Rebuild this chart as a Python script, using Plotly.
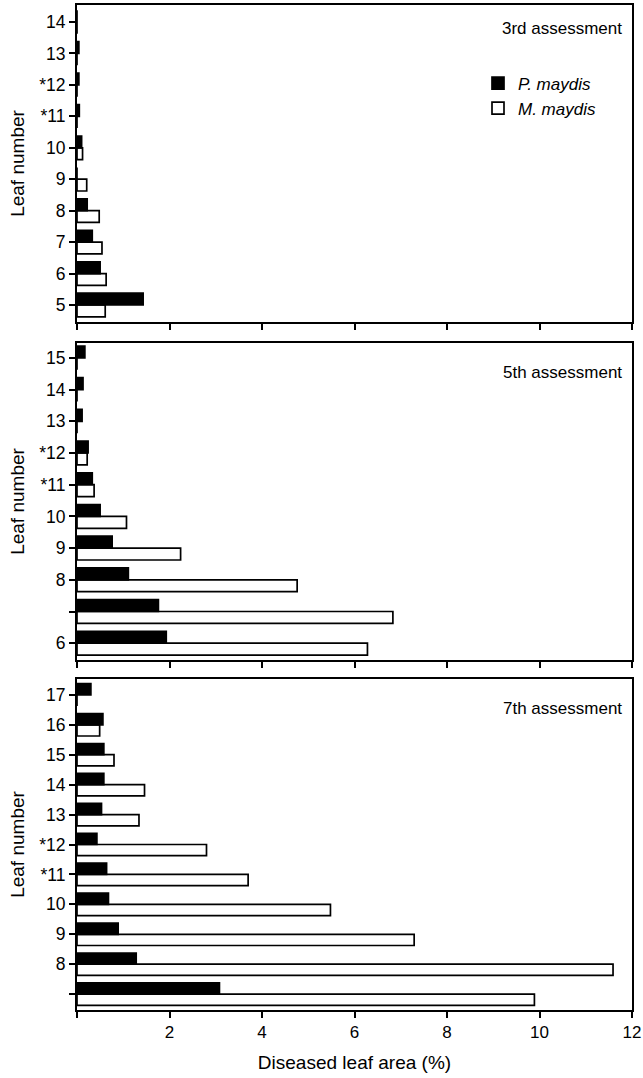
import plotly.graph_objects as go

# Diseased leaf area (%) per leaf, for three assessment dates
leaf_3rd = [5, 6, 7, 8, 9, 10, 11, 12, 13, 14]
leaf_3rd_labels = ["5", "6", "7", "8", "9", "10", "*11", "*12", "13", "14"]
pmaydis_3rd = [1.43, 0.50, 0.33, 0.22, 0.0, 0.10, 0.05, 0.04, 0.04, 0.0]
mmaydis_3rd = [0.61, 0.63, 0.54, 0.48, 0.21, 0.12, 0.0, 0.0, 0.0, 0.0]

leaf_5th = [6, 7, 8, 9, 10, 11, 12, 13, 14, 15]
leaf_5th_labels = ["6", "", "8", "9", "10", "*11", "*12", "13", "14", "15"]
pmaydis_5th = [1.93, 1.76, 1.11, 0.76, 0.50, 0.33, 0.24, 0.11, 0.13, 0.17]
mmaydis_5th = [6.28, 6.83, 4.76, 2.24, 1.07, 0.37, 0.22, 0.0, 0.0, 0.0]

leaf_7th = [7, 8, 9, 10, 11, 12, 13, 14, 15, 16, 17]
leaf_7th_labels = ["", "8", "9", "10", "*11", "*12", "13", "14", "15", "16", "17"]
pmaydis_7th = [3.08, 1.28, 0.89, 0.68, 0.64, 0.43, 0.53, 0.58, 0.58, 0.56, 0.30]
mmaydis_7th = [9.89, 11.59, 7.29, 5.48, 3.70, 2.80, 1.34, 1.46, 0.80, 0.49, 0.0]

x_ticks = [0, 2, 4, 6, 8, 10, 12]
x_tick_labels = ["", "2", "4", "6", "8", "10", "12"]
panel_titles = ["3rd assessment", "5th assessment", "7th assessment"]

W, H = 643, 1078
FONT = "Liberation Sans, Arial, Helvetica, sans-serif"

# panel boxes in pixels: (top, bottom), and the title's distance below the top
panels = [(5, 322), (343, 660), (679, 1010)]
title_drop = [23, 30, 29]
x_left, x_right = 77, 632


def ydom(top, bottom):
    return [1 - bottom / H, 1 - top / H]


fig = go.Figure()

data = [
    (leaf_3rd, leaf_3rd_labels, pmaydis_3rd, mmaydis_3rd),
    (leaf_5th, leaf_5th_labels, pmaydis_5th, mmaydis_5th),
    (leaf_7th, leaf_7th_labels, pmaydis_7th, mmaydis_7th),
]

for i, (leaf, labels, pm, mm) in enumerate(data):
    xa = "x" if i == 0 else f"x{i + 1}"
    ya = "y" if i == 0 else f"y{i + 1}"
    # first trace sits lower in each group, so the open bar goes first
    fig.add_trace(go.Bar(
        y=leaf, x=mm, orientation="h", xaxis=xa, yaxis=ya,
        name="<i>M. maydis</i>", legendrank=2, showlegend=(i == 0),
        marker=dict(color="white", line=dict(color="black", width=1.7)),
    ))
    fig.add_trace(go.Bar(
        y=leaf, x=pm, orientation="h", xaxis=xa, yaxis=ya,
        name="<i>P. maydis</i>", legendrank=1, showlegend=(i == 0),
        marker=dict(color="black", line=dict(color="black", width=1.7)),
    ))

axis_common = dict(
    showline=True, linecolor="black", linewidth=2, mirror=True,
    showgrid=False, zeroline=False, ticks="outside", tickcolor="black",
    tickwidth=1.5, ticklen=6, automargin=False,
)

ranges = [[4.46, 14.54], [5.47, 15.47], [6.47, 17.53]]
layout = dict(
    width=W, height=H,
    margin=dict(l=0, r=0, t=0, b=0, autoexpand=False),
    paper_bgcolor="white", plot_bgcolor="white",
    barmode="group", bargap=0.25, bargroupgap=0.0,
    font=dict(family=FONT, color="black"),
    showlegend=True,
    legend=dict(
        x=478 / W, y=1 - 96 / H, xanchor="left", yanchor="middle",
        bgcolor="rgba(0,0,0,0)", font=dict(size=17, family=FONT),
        itemwidth=30, tracegroupgap=0,
    ),
)

for i, (top, bottom) in enumerate(panels):
    sx = "" if i == 0 else str(i + 1)
    leaf, labels = data[i][0], data[i][1]
    layout[f"xaxis{sx}"] = dict(
        axis_common, domain=[x_left / W, x_right / W], range=[0, 12],
        anchor=f"y{sx}", tickvals=x_ticks, ticktext=x_tick_labels,
        showticklabels=(i == 2), tickfont=dict(size=17),
        ticklabeloverflow="allow",
        title=dict(text="Diseased leaf area (%)" if i == 2 else "",
                   font=dict(size=19), standoff=14),
    )
    layout[f"yaxis{sx}"] = dict(
        axis_common, domain=ydom(top, bottom), range=ranges[i],
        anchor=f"x{sx}", tickvals=leaf, ticktext=labels,
        tickfont=dict(size=17.5),
        title=dict(text="Leaf number", font=dict(size=19), standoff=10),
    )

fig.update_layout(**layout)

for i, (top, bottom) in enumerate(panels):
    sx = "" if i == 0 else str(i + 1)
    fig.add_annotation(
        text=panel_titles[i], xref=f"x{sx} domain", yref=f"y{sx} domain",
        x=1 - 8 / (x_right - x_left), y=1 - title_drop[i] / (bottom - top),
        xanchor="right", yanchor="middle", showarrow=False,
        font=dict(size=17, family=FONT, color="black"),
    )

fig.write_html("out.html")
